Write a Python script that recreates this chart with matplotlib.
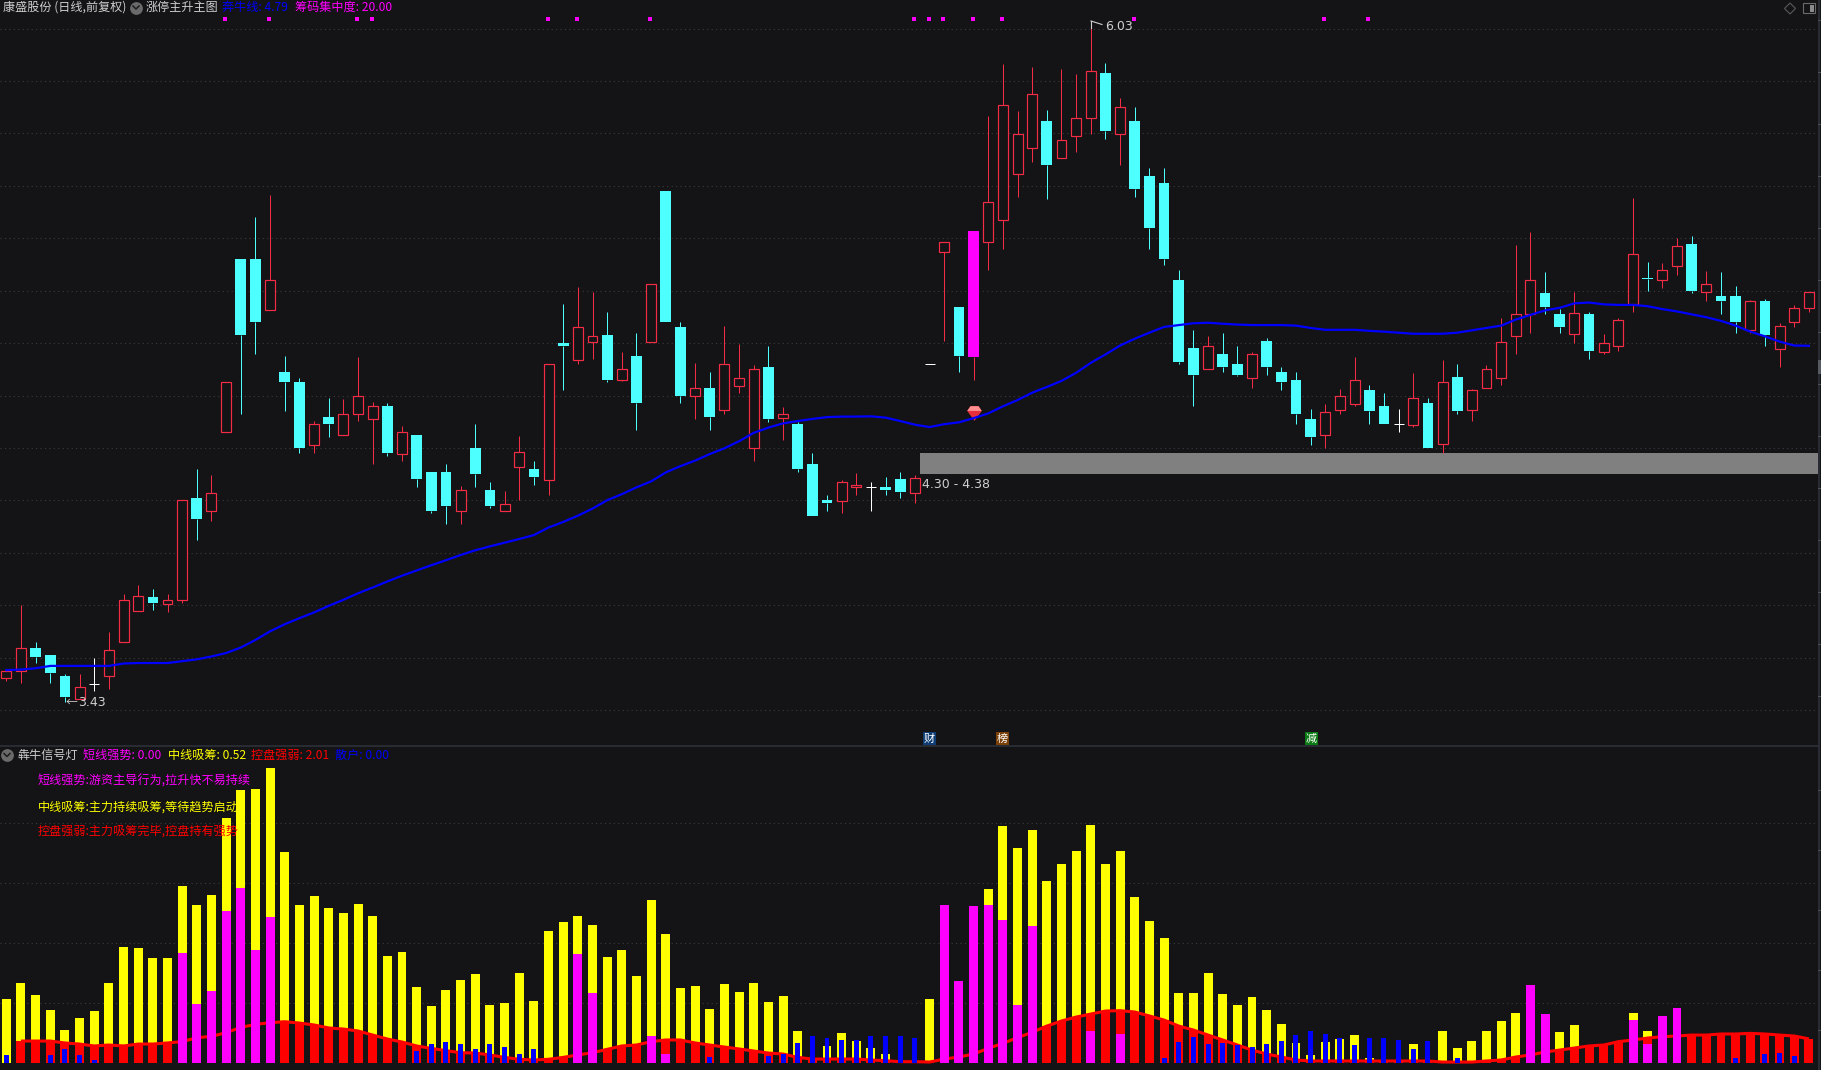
import numpy as np
import matplotlib
matplotlib.use("Agg")
import matplotlib.pyplot as plt
from matplotlib.lines import Line2D
from matplotlib.patches import Rectangle, Polygon

plt.rcParams['font.family'] = ['Noto Sans CJK SC', 'DejaVu Sans']

# ---------- daily candles ----------
opens = [3.521,3.548,3.639,3.609,3.530,3.441,3.501,3.530,3.659,3.780,
         3.832,3.807,3.819,4.210,4.158,4.460,5.121,5.121,4.928,4.691,
         4.653,4.410,4.518,4.448,4.529,4.509,4.561,4.379,4.449,4.309,
         4.309,4.158,4.401,4.241,4.158,4.329,4.320,4.280,4.799,4.737,
         4.806,4.831,4.658,4.752,4.806,5.380,4.862,4.597,4.629,4.547,
         4.638,4.399,4.709,4.516,4.493,4.340,4.203,4.199,4.250,4.253,
         4.251,4.282,4.230,4.719,5.146,4.937,5.229,5.187,5.268,5.447,
         5.546,5.648,5.508,5.589,5.657,5.830,5.596,5.648,5.438,5.411,
         5.042,4.782,4.700,4.759,4.721,4.669,4.808,4.691,4.660,4.511,
         4.448,4.547,4.568,4.622,4.561,4.491,4.489,4.572,4.417,4.671,
         4.547,4.628,4.669,4.829,4.910,4.991,4.912,4.836,4.912,4.768,
         4.788,4.948,5.047,5.040,5.096,5.178,4.997,4.980,4.980,4.849,
         4.961,4.779,4.880,4.935]
closes = [3.548,3.639,3.602,3.542,3.452,3.490,3.501,3.629,3.819,3.837,
          3.809,3.819,4.201,4.129,4.230,4.651,4.831,4.881,5.040,4.653,
          4.401,4.491,4.493,4.529,4.597,4.559,4.381,4.460,4.282,4.160,
          4.179,4.239,4.302,4.179,4.188,4.386,4.289,4.719,4.790,4.860,
          4.829,4.660,4.700,4.572,5.027,4.881,4.599,4.628,4.518,4.719,
          4.669,4.700,4.511,4.529,4.320,4.142,4.190,4.269,4.259,4.253,
          4.241,4.232,4.287,4.719,5.187,4.752,4.748,5.337,5.708,5.596,
          5.749,5.479,5.576,5.657,5.837,5.609,5.699,5.389,5.240,5.121,
          4.728,4.678,4.788,4.709,4.678,4.757,4.709,4.653,4.530,4.442,
          4.539,4.597,4.658,4.541,4.493,4.491,4.590,4.401,4.651,4.541,
          4.620,4.700,4.806,4.910,5.040,4.937,4.862,4.917,4.770,4.799,
          4.887,5.139,5.043,5.078,5.169,4.998,5.027,4.961,4.881,4.959,
          4.831,4.867,4.935,4.997]
highs = [3.549,3.803,3.661,3.609,3.540,3.539,3.600,3.697,3.845,3.877,
         3.863,3.845,4.201,4.320,4.298,4.651,5.121,5.281,5.364,4.750,
         4.669,4.505,4.592,4.588,4.748,4.575,4.570,4.485,4.449,4.309,
         4.340,4.255,4.493,4.271,4.237,4.446,4.350,4.719,4.950,5.015,
         4.995,4.919,4.766,4.838,5.027,5.380,4.880,4.725,4.691,4.865,
         4.797,4.718,4.790,4.557,4.498,4.381,4.219,4.278,4.305,4.271,
         4.289,4.309,4.296,4.719,5.187,4.937,5.229,5.666,5.864,5.686,
         5.853,5.690,5.846,5.826,6.030,5.870,5.735,5.700,5.468,5.468,
         5.078,4.851,4.827,4.838,4.790,4.766,4.820,4.709,4.691,4.548,
         4.568,4.626,4.748,4.640,4.610,4.548,4.687,4.592,4.736,4.721,
         4.626,4.718,4.896,5.175,5.223,5.072,4.930,4.995,4.919,4.835,
         4.896,5.353,5.110,5.106,5.200,5.209,5.076,5.072,5.018,4.964,
         4.968,4.878,4.946,4.997]
lows = [3.512,3.503,3.580,3.503,3.430,3.441,3.472,3.481,3.659,3.780,
        3.782,3.773,3.809,4.050,4.122,4.460,4.530,4.759,4.928,4.541,
        4.381,4.381,4.442,4.448,4.502,4.340,4.370,4.350,4.251,4.152,
        4.111,4.111,4.251,4.172,4.158,4.203,4.259,4.221,4.622,4.721,
        4.739,4.653,4.655,4.469,4.806,4.881,4.572,4.511,4.469,4.530,
        4.610,4.350,4.500,4.431,4.309,4.142,4.160,4.152,4.221,4.160,
        4.221,4.210,4.192,4.719,4.808,4.691,4.660,5.079,5.159,5.358,
        5.492,5.349,5.508,5.529,5.598,5.578,5.479,5.358,5.159,5.097,
        4.721,4.561,4.700,4.691,4.673,4.629,4.678,4.622,4.493,4.412,
        4.401,4.530,4.561,4.493,4.493,4.462,4.480,4.401,4.381,4.530,
        4.502,4.628,4.640,4.759,4.838,4.912,4.838,4.800,4.739,4.759,
        4.770,4.919,4.998,5.011,5.060,4.991,4.961,4.912,4.838,4.838,
        4.790,4.709,4.863,4.919]
bull_line = [3.553,3.555,3.560,3.569,3.569,3.569,3.569,3.569,3.578,3.580,
             3.580,3.580,3.587,3.594,3.605,3.618,3.639,3.668,3.701,3.728,
             3.751,3.773,3.798,3.821,3.846,3.868,3.891,3.913,3.933,3.953,
             3.972,3.992,4.010,4.025,4.039,4.053,4.068,4.097,4.118,4.142,
             4.169,4.201,4.224,4.250,4.273,4.307,4.331,4.352,4.377,4.399,
             4.426,4.458,4.478,4.494,4.503,4.511,4.518,4.520,4.520,4.521,
             4.516,4.503,4.489,4.480,4.491,4.498,4.514,4.532,4.559,4.583,
             4.611,4.633,4.656,4.687,4.725,4.757,4.791,4.817,4.840,4.862,
             4.869,4.876,4.878,4.874,4.871,4.869,4.869,4.869,4.867,4.858,
             4.851,4.851,4.851,4.847,4.844,4.840,4.836,4.836,4.836,4.840,
             4.849,4.858,4.867,4.890,4.908,4.925,4.935,4.952,4.955,4.948,
             4.946,4.946,4.941,4.930,4.921,4.910,4.899,4.885,4.867,4.844,
             4.826,4.806,4.791,4.790]
limit_down_days = [66]
chip_days = [15,18,24,25,37,39,44,62,63,64,66,68,77,90,93]
chip_level = 6.037
band_low, band_high = 4.30, 4.38
band_start = 62.35
price_grid = [3.4,3.6,3.8,4.0,4.2,4.4,4.6,4.8,5.0,5.2,5.4,5.6,5.8,6.0]
gem_day, gem_price = 66, 4.534

# ---------- signal panel ----------
yellow = [5.33,6.67,5.67,4.42,2.75,3.75,4.33,6.67,9.67,9.58,
          8.75,8.75,14.75,13.17,14.0,20.42,22.75,22.83,24.58,17.58,
          13.17,13.92,12.92,12.5,13.25,12.25,8.92,9.25,6.33,4.75,
          6.08,6.92,7.42,4.83,5.0,7.5,5.17,11.0,11.75,12.25,
          11.5,8.83,9.42,7.25,13.58,10.75,6.25,6.42,4.5,6.58,
          5.92,6.67,5.08,5.58,2.67,0,1.42,2.5,1.83,1.25,
          0.75,0,0,5.33,0,0,0,14.5,19.75,17.92,
          19.42,15.17,16.58,17.67,19.83,16.58,17.67,13.83,11.83,10.42,
          5.83,5.83,7.5,5.75,4.83,5.5,4.42,3.25,1.67,0.67,
          1.75,2.0,2.33,0.42,0,0,1.58,0,2.67,1.25,
          1.83,2.67,3.5,4.17,0,0,2.58,3.17,0,0,
          0,4.17,2.67,0,0,0,0,0,0,0,
          0,0,0,0]
magenta = [0,0,0,0,0,0,0,0,0,0,
           0,0,9.17,4.92,6.0,12.67,14.58,9.42,12.17,0,
           0,0,0,0,0,0,0,0,0,0,
           0,0,0,0,0,0,0,0,0,9.08,
           5.83,0,0,0,2.25,0.75,0,0,0,0,
           0,0,0,0,0,0,0,0,0,0,
           0,0,0,0,13.17,6.83,13.08,13.17,11.92,4.83,
           11.42,0,0,0,2.67,0,2.42,0,0,0,
           0,0,0,0,0,0,0,0,0,0,
           0,0,0,0,0,0,0,0,0,0,
           0,0,0,0,6.5,4.08,0,0,0,0,
           0,3.58,1.58,3.92,4.58,0,0,0,0,0,
           0,0,0,0]
control = [np.nan,1.83,1.83,1.83,1.67,1.58,1.42,1.5,1.42,1.58,
           1.58,1.67,1.78,2.11,2.22,2.53,2.97,3.22,3.36,3.44,
           3.33,3.17,2.92,2.83,2.67,2.33,2.0,1.75,1.42,1.22,
           1.03,0.86,0.83,0.67,0.47,0.31,0.25,0.31,0.47,0.67,
           0.86,1.14,1.42,1.5,1.78,1.92,1.92,1.67,1.5,1.33,
           1.17,1.0,0.83,0.75,0.47,0.33,0.33,0.33,0.33,0.25,
           0.19,0.11,0.11,0.08,0.33,0.5,0.75,1.22,1.64,2.11,
           2.56,3.08,3.5,3.83,4.08,4.33,4.36,4.25,3.92,3.58,
           3.08,2.75,2.33,1.92,1.5,1.08,0.75,0.5,0.25,0.17,
           0.17,0.17,0.17,0.17,0.17,0.17,0.17,0.17,0.08,0.08,
           0.08,0.17,0.25,0.5,0.67,0.92,1.08,1.25,1.42,1.5,
           1.78,1.92,2.08,2.19,2.25,2.33,2.33,2.42,2.42,2.47,
           2.42,2.33,2.25,2.01]
retail = [0.67,0,0,0.67,1.17,0.67,0.25,0,0,0,
          0,0,0,0,0,0,0,0,0,0,
          0,0,0,0,0,0,0,0,1.0,1.58,
          1.75,1.58,1.17,1.58,1.33,0.75,1.17,0,0,0,
          0,0,0,0,0,0,0,0,0.5,0,
          0,0,0.58,0.75,1.67,2.25,2.08,1.92,1.92,2.25,
          2.25,2.25,2.08,0,0,0,0,0,0,0,
          0,0,0,0,0,0,0,0,0,0.42,
          1.75,2.17,1.58,1.67,1.5,1.33,1.58,1.83,2.33,2.67,
          2.42,2.08,1.5,2.08,2.08,1.92,1.17,1.83,0,0.42,
          0,0,0,0,0,0,0,0,0,0,
          0,0,0,0,0,0,0,0,0.42,0,
          0.75,0.83,0.58,0]
signal_grid = [5,10,15,20]

# ---------- texts ----------
stock_title = "康盛股份 (日线,前复权)"
main_name = "涨停主升主图"
main_legend = [("奔牛线: 4.79", "#0000ff", 222), ("筹码集中度: 20.00", "#ff00ff", 295)]
sub_name = "犇牛信号灯"
sub_legend = [("短线强势: 0.00", "#ff00ff", 83), ("中线吸筹: 0.52", "#ffff00", 168),
              ("控盘强弱: 2.01", "#ff0000", 251), ("散户: 0.00", "#0000ff", 335)]
notes = [("短线强势:游资主导行为,拉升快不易持续", "#ff00ff", 781),
         ("中线吸筹:主力持续吸筹,等待趋势启动", "#ffff00", 807),
         ("控盘强弱:主力吸筹完毕,控盘持有强势", "#ff0000", 831)]
events = [("财", "#0f3d73", 929.5), ("榜", "#7a4008", 1002.5), ("减", "#0a7a14", 1311)]

# ---------- layout ----------
W, H = 1821, 1070
BG = "#141315"
UP = "#f52c45"
DOWN = "#4dffff"
GRID = "#3c3c3e"
LINE = "#2b2e36"
LABEL = "#cfcfcf"
TEXT_SIZE = 8.7

fig = plt.figure(figsize=(W/100, H/100), dpi=100, facecolor=BG)
def axes_px(x0, y0, x1, y1):
    a = fig.add_axes([x0/W, 1-y1/H, (x1-x0)/W, (y1-y0)/H], facecolor=BG)
    a.axis('off')
    return a
def ftext(x, y, s, color, size=TEXT_SIZE, **kw):
    return fig.text(x/W, 1-y/H, s, color=color, fontsize=size, va='center', ha='left', zorder=20, **kw)

days = np.arange(len(closes))
xlim = (-0.43, 123.62)

# ---------- price panel ----------
ax = axes_px(0, 0, 1818, 745.6)
ax.set_xlim(*xlim)
ax.set_ylim(3.265, 6.109)
for p in price_grid:
    ax.axhline(p, color=GRID, lw=0.8, ls=(0, (1, 3)), zorder=0)
ax.broken_barh([(band_start, xlim[1]-band_start)], (band_low, band_high-band_low),
               facecolor="#808080", edgecolor="none", zorder=1)

bw = 0.68
for i in days:
    o, c, h, l = opens[i], closes[i], highs[i], lows[i]
    top, bot = max(o, c), min(o, c)
    if i in limit_down_days:
        col, fill, wick = "#ff00ff", "#ff00ff", UP
    elif c > o:
        col, fill, wick = UP, BG, UP
    elif c < o:
        col, fill, wick = DOWN, DOWN, DOWN
    else:
        col, fill, wick = "#ffffff", "#ffffff", "#ffffff"
    ax.vlines(i, top, h, color=wick, lw=0.72, zorder=2, snap=True)
    ax.vlines(i, l, bot, color=wick, lw=0.72, zorder=2, snap=True)
    if c > o:
        ax.bar(i, top-bot, bottom=bot, width=bw, facecolor=fill, edgecolor=col, lw=0.85, zorder=3)
    elif c < o:
        ax.bar(i, top-bot, bottom=bot, width=bw+0.05, facecolor=fill, edgecolor="none", zorder=3)
    else:
        ax.hlines(c, i-bw/2, i+bw/2, color=col, lw=0.72, zorder=3, snap=True)

# gem icon on the signal day, below the blue line
gem_shape = [(-1, 0.35), (-0.55, 1), (0.55, 1), (1, 0.35), (0, -1), (-1, 0.35)]
gem_top = [(-1, 0.35), (-0.55, 1), (0.55, 1), (1, 0.35), (-1, 0.35)]
ax.plot([gem_day+0.05], [gem_price], marker=gem_shape, ms=10.5, color="#e8303c", mew=0, ls='none', zorder=4)
ax.plot([gem_day+0.05], [gem_price], marker=gem_top, ms=10.5, color="#ff8f8f", mew=0, ls='none', zorder=4)

ax.plot(days, bull_line, color="#0000ff", lw=1.6, zorder=5)
ax.scatter(np.array(chip_days)-0.07, [chip_level]*len(chip_days), marker='s', s=5.5, color="#ff00ff", linewidths=0, zorder=5)

# labels for the extremes and the band
ftext(66, 702, "←", LABEL, size=8.5)
ftext(78, 702, "3.43", LABEL, size=9, family='DejaVu Sans')
fig.add_artist(Line2D([1091/W, 1102/W], [1-21/H, 1-24.5/H], color=LABEL, lw=0.8))
fig.add_artist(Line2D([1091/W, 1091/W], [1-21/H, 1-28/H], color=LABEL, lw=0.8))
ftext(1105, 26, "6.03", LABEL, size=9, family='DejaVu Sans')
ftext(922, 484, "4.30 - 4.38", LABEL, size=9, family='DejaVu Sans')

# event boxes at the panel bottom
for s, colr, x in events:
    fig.add_artist(Rectangle(((x-6.5)/W, 1-744.5/H), 13/W, 12.5/H, facecolor=colr, edgecolor="none", transform=fig.transFigure, zorder=10))
    fig.text(x/W, 1-738.5/H, s, color="white", fontsize=8, ha='center', va='center', zorder=21)

# ---------- signal panel ----------
ax2 = axes_px(0, 746, 1818, 1070)
ax2.set_xlim(*xlim)
ax2.set_ylim(-0.583, 26.42)
for v in signal_grid:
    ax2.axhline(v, color=GRID, lw=0.8, ls=(0, (1, 3)), zorder=0)
w = 0.61
ctrl = np.nan_to_num(np.array(control))
ax2.bar(days, yellow, width=w, color="#ffff00", lw=0, zorder=1)
ax2.bar(days, ctrl, width=w, color="#ff0000", lw=0, zorder=2)
ax2.plot(days, control, color="#ff0000", lw=2.2, zorder=2, solid_capstyle='butt')
ax2.bar(days, magenta, width=w, color="#ff00ff", lw=0, zorder=3)
ax2.bar(days, retail, width=0.34, color="#0000ff", lw=0, zorder=4)

# ---------- chrome ----------
fig.add_artist(Line2D([0, 1818/W], [1-746/H]*2, color=LINE, lw=1.3, zorder=9))
fig.add_artist(Line2D([1818.5/W]*2, [0, 1], color=LINE, lw=1.3, zorder=9))
for yy in list(range(20, 745, 52)) + list(range(790, 1060, 60)):
    fig.add_artist(Line2D([1818/W, 1821/W], [1-yy/H]*2, color="#4a4d55", lw=0.8, zorder=9))
fig.add_artist(Rectangle((1818/W, 1-374/H), 3/W, 14/H, facecolor="#555a63", edgecolor="none", transform=fig.transFigure, zorder=10))

def chevron(x, y):
    fig.add_artist(Line2D([x/W], [1-y/H], marker='o', ms=9.2, color="#6a6a6a", mew=0, zorder=12))
    fig.add_artist(Line2D([(x-3)/W, x/W, (x+3)/W], [1-(y-1.5)/H, 1-(y+1.5)/H, 1-(y-1.5)/H], color="#1d1d1d", lw=1.1, zorder=13))

ftext(3, 7.5, stock_title, "#cfcfcf")
chevron(136, 7.5)
ftext(146, 7.5, main_name, "#cfcfcf")
for s, c, x in main_legend:
    ftext(x, 7.5, s, c)
chevron(7, 755)
ftext(18, 755, sub_name, "#cfcfcf")
for s, c, x in sub_legend:
    ftext(x, 755, s, c)
for s, c, y in notes:
    ftext(38, y, s, c)

# window icons top right
fig.add_artist(Polygon([[(1790-5.5)/W, 1-8.5/H], [1790/W, 1-3/H], [(1790+5.5)/W, 1-8.5/H], [1790/W, 1-14/H]],
                       closed=True, fill=False, edgecolor="#5a5a5a", lw=0.8, transform=fig.transFigure))
fig.add_artist(Rectangle((1803/W, 1-13/H), 12/W, 10/H, fill=False, edgecolor="#6a6a6a", lw=0.8, transform=fig.transFigure))
fig.add_artist(Rectangle((1809.5/W, 1-11.5/H), 4/W, 7/H, facecolor="#8a8a8a", edgecolor="none", transform=fig.transFigure))

fig.savefig("out.png", dpi=100, facecolor=BG)
